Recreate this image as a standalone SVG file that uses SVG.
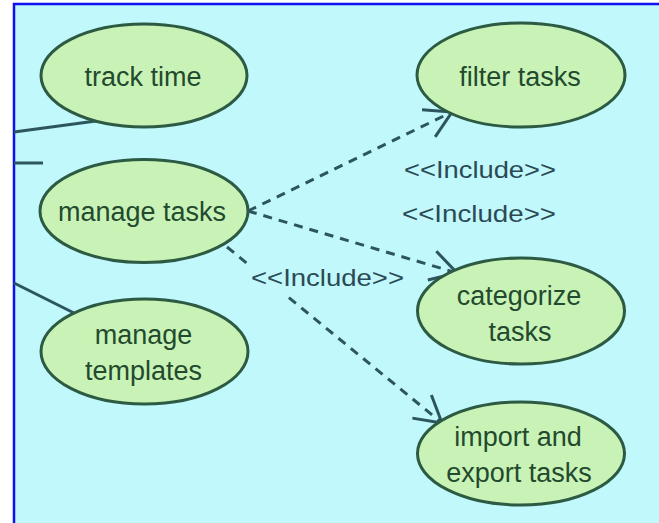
<svg xmlns="http://www.w3.org/2000/svg" width="659" height="523" viewBox="0 0 659 523">
<style>
.uc{fill:#c9f3b6;stroke:#2c5a42;stroke-width:3}
.t{font-family:"Liberation Sans",Arial,sans-serif;font-size:27px;fill:#234a2e;text-anchor:middle}
.lbl{font-family:"Liberation Sans",Arial,sans-serif;font-size:24px;fill:#2b4a55}
.solid{stroke:#2c5560;stroke-width:3;fill:none}
.dash{stroke:#2c5560;stroke-width:3;fill:none;stroke-dasharray:9 7}
</style>
<defs>
<marker id="open" markerUnits="userSpaceOnUse" markerWidth="40" markerHeight="40" refX="30" refY="20" orient="auto" viewBox="0 0 40 40">
<path d="M4,5 L30,20 L4,35" fill="none" stroke="#2c5560" stroke-width="3"/>
</marker>
</defs>
<rect x="0" y="0" width="659" height="523" fill="#ffffff"/>
<rect x="14" y="4" width="700" height="600" fill="#c0f8fb" stroke="#1010f0" stroke-width="2.5"/>
<g id="connectors">
<line class="solid" x1="14" y1="132" x2="96" y2="121"/>
<line class="solid" x1="14" y1="163" x2="43" y2="163"/>
<line class="solid" x1="14" y1="283" x2="74" y2="313"/>
<line class="dash" x1="248" y1="211" x2="452" y2="112" marker-end="url(#open)"/>
<line class="dash" x1="248" y1="211" x2="457" y2="273" marker-end="url(#open)"/>
<line class="dash" x1="227" y1="247" x2="442" y2="423" marker-end="url(#open)"/>
<text class="lbl" x="404" y="178" textLength="152" lengthAdjust="spacingAndGlyphs">&lt;&lt;Include&gt;&gt;</text>
<text class="lbl" x="402" y="222" textLength="154" lengthAdjust="spacingAndGlyphs">&lt;&lt;Include&gt;&gt;</text>
<rect x="247" y="262" width="160" height="34" fill="#c0f8fb"/>
<text class="lbl" x="251" y="286" textLength="153" lengthAdjust="spacingAndGlyphs">&lt;&lt;Include&gt;&gt;</text>
</g>
<g id="track-time">
<ellipse class="uc" cx="144" cy="75.5" rx="103" ry="51.5"/>
<text class="t" x="143" y="86">track time</text>
</g>
<g id="manage-tasks">
<ellipse class="uc" cx="144" cy="211" rx="104" ry="51.5"/>
<text class="t" x="142" y="221">manage tasks</text>
</g>
<g id="manage-templates">
<ellipse class="uc" cx="144.5" cy="351.5" rx="103.5" ry="52.5"/>
<text class="t" x="143.5" y="344">manage</text>
<text class="t" x="143.5" y="380">templates</text>
</g>
<g id="filter-tasks">
<ellipse class="uc" cx="521" cy="75" rx="104" ry="52"/>
<text class="t" x="520" y="86">filter tasks</text>
</g>
<g id="categorize-tasks">
<ellipse class="uc" cx="521" cy="311" rx="103.5" ry="53"/>
<text class="t" x="519" y="305">categorize</text>
<text class="t" x="520" y="341">tasks</text>
</g>
<g id="import-export-tasks">
<ellipse class="uc" cx="521" cy="453.5" rx="103.5" ry="51.5"/>
<text class="t" x="518" y="446">import and</text>
<text class="t" x="519" y="482">export tasks</text>
</g>
</svg>
